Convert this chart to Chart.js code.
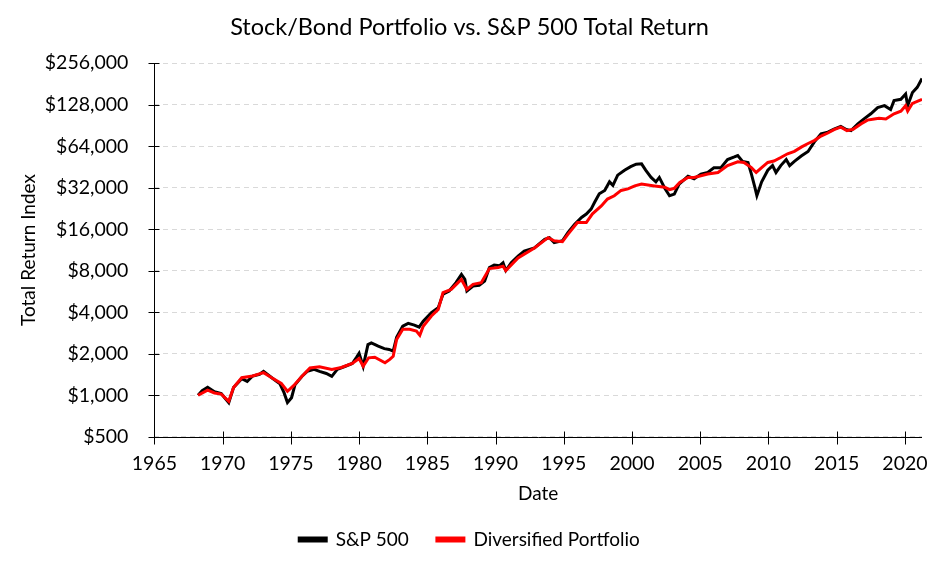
<!DOCTYPE html>
<html>
<head>
<meta charset="utf-8">
<script src="https://cdn.jsdelivr.net/npm/chart.js@4/dist/chart.umd.min.js"></script>
<style>
  html, body { margin: 0; padding: 0; background: #fff; }
  #wrap { width: 936px; height: 562px; }
</style>
</head>
<body>
<div id="wrap"><canvas id="chart"></canvas></div>
<script>
// values (decimal years, index level in $)
const spYears = [1968.2, 1968.5, 1968.9, 1969.4, 1969.9, 1970.15, 1970.45, 1970.8, 1971.4, 1971.8,
  1972.2, 1972.7, 1973.0, 1973.6, 1974.2, 1974.5, 1974.75, 1975.05, 1975.3, 1975.8,
  1976.2, 1976.7, 1977.1, 1977.6, 1978.0, 1978.4, 1978.9, 1979.5, 1979.8, 1980.0,
  1980.3, 1980.65, 1980.9, 1981.4, 1981.85, 1982.2, 1982.5, 1982.75, 1983.2, 1983.6,
  1984.05, 1984.4, 1984.7, 1985.3, 1985.8, 1986.15, 1986.6, 1987.1, 1987.5, 1987.75,
  1987.9, 1988.35, 1988.8, 1989.2, 1989.55, 1989.9, 1990.3, 1990.55, 1990.75, 1991.15,
  1991.65, 1992.1, 1992.85, 1993.6, 1993.95, 1994.3, 1994.9, 1995.3, 1995.8, 1996.3,
  1996.65, 1997.0, 1997.25, 1997.6, 1998.0, 1998.35, 1998.6, 1998.95, 1999.45, 1999.9,
  2000.3, 2000.7, 2001.0, 2001.4, 2001.75, 2002.0, 2002.4, 2002.75, 2003.1, 2003.45,
  2004.1, 2004.55, 2005.05, 2005.55, 2006.0, 2006.5, 2007.0, 2007.5, 2007.75, 2008.1,
  2008.5, 2008.75, 2009.0, 2009.15, 2009.5, 2009.95, 2010.3, 2010.55, 2010.9, 2011.3,
  2011.55, 2011.9, 2012.4, 2012.9, 2013.35, 2013.85, 2014.35, 2014.8, 2015.3, 2015.7,
  2016.05, 2016.55, 2017.0, 2017.5, 2018.0, 2018.5, 2018.95, 2019.2, 2019.7, 2020.05,
  2020.2, 2020.55, 2020.9, 2021.25];
const spValues = [1000, 1080, 1143, 1060, 1030, 960, 885, 1140, 1320, 1260,
  1380, 1420, 1490, 1340, 1210, 1045, 885, 960, 1190, 1370,
  1490, 1540, 1490, 1440, 1370, 1540, 1610, 1700, 1880, 2020,
  1620, 2330, 2400, 2270, 2180, 2150, 2090, 2630, 3170, 3320,
  3230, 3120, 3450, 3970, 4320, 5400, 5700, 6560, 7530, 6920,
  5700, 6200, 6270, 6740, 8440, 8800, 8700, 9130, 8030, 9160,
  10200, 11100, 11700, 13500, 13900, 12800, 13200, 15100, 17400, 19500,
  20600, 22400, 25000, 28900, 30600, 35300, 33300, 39500, 42900, 45500,
  47400, 47700, 42900, 38000, 35300, 38000, 31700, 28000, 28800, 34000,
  38700, 37200, 40200, 41300, 44600, 44600, 51200, 53500, 54800, 49700,
  48800, 40200, 32300, 28000, 35300, 42900, 46300, 41300, 46300, 51200,
  46300, 49700, 54300, 58600, 68600, 78800, 81000, 85000, 89000, 84500,
  83000, 93000, 101000, 110000, 122000, 126000, 118000, 137000, 140000, 153000,
  126000, 157000, 171000, 198000];

const divYears = [1968.2, 1968.9, 1969.4, 1969.9, 1970.45, 1970.8, 1971.4, 1972.2, 1973.0, 1973.6,
  1974.3, 1974.75, 1975.2, 1975.8, 1976.4, 1977.1, 1978.0, 1978.7, 1979.5, 1980.0,
  1980.3, 1980.7, 1981.15, 1981.9, 1982.25, 1982.5, 1982.75, 1983.2, 1983.7, 1984.2,
  1984.45, 1984.7, 1985.3, 1985.8, 1986.15, 1986.75, 1987.25, 1987.5, 1987.9, 1988.35,
  1988.95, 1989.55, 1990.2, 1990.55, 1990.75, 1991.65, 1992.85, 1993.85, 1994.3, 1994.9,
  1995.3, 1996.0, 1996.65, 1997.1, 1997.75, 1998.2, 1998.7, 1999.2, 1999.7, 2000.2,
  2000.7, 2001.65, 2002.4, 2002.75, 2003.1, 2003.5, 2004.1, 2004.55, 2005.55, 2006.3,
  2007.0, 2007.75, 2008.2, 2008.75, 2009.1, 2009.5, 2009.95, 2010.4, 2010.9, 2011.4,
  2011.9, 2012.4, 2012.9, 2013.35, 2013.85, 2014.35, 2014.8, 2015.3, 2015.75, 2016.2,
  2016.8, 2017.25, 2017.75, 2018.1, 2018.6, 2019.2, 2019.7, 2020.05, 2020.2, 2020.55,
  2021.25];
const divValues = [1000, 1090, 1040, 1020, 905, 1140, 1340, 1380, 1460, 1340,
  1220, 1070, 1175, 1370, 1580, 1610, 1540, 1590, 1700, 1850,
  1625, 1870, 1890, 1720, 1820, 1920, 2540, 3010, 3010, 2920,
  2720, 3170, 3760, 4200, 5550, 5860, 6560, 6920, 5860, 6370,
  6560, 8300, 8440, 8640, 8030, 9900, 11700, 13900, 13200, 13000,
  14700, 17900, 17900, 20700, 23600, 26500, 28000, 30600, 31400, 33000,
  34000, 33000, 32300, 31000, 31700, 35000, 38000, 38000, 40200, 41300,
  46300, 49400, 48800, 44800, 41300, 44800, 48800, 50000, 53000, 56400,
  58700, 63000, 67000, 70300, 75800, 79800, 84500, 88000, 83000, 85000,
  93000, 99000, 101000, 102000, 101000, 110000, 115000, 126000, 115000, 131000,
  140000];

const xTicks = [1965, 1970, 1975, 1980, 1985, 1990, 1995, 2000, 2005, 2010, 2015, 2020];
const yTicks = [500, 1000, 2000, 4000, 8000, 16000, 32000, 64000, 128000, 256000];

const FONT = 'Lato, "Open Sans", sans-serif';

// axis lines and tick marks: in the picture the ticks cross the axis line
const axisLines = {
  id: 'axisLines',
  afterDraw(chart) {
    const { ctx, chartArea, scales: { x, y } } = chart;
    const ax = Math.round(chartArea.left) + 0.5;
    const ay = Math.round(chartArea.bottom) + 0.5;
    ctx.save();
    ctx.setLineDash([]);
    ctx.globalAlpha = 1;
    ctx.strokeStyle = '#000000';
    ctx.lineWidth = 1;
    ctx.beginPath();
    ctx.moveTo(ax, Math.round(chartArea.top));
    ctx.lineTo(ax, ay);
    ctx.lineTo(Math.round(chartArea.right), ay);
    y.ticks.forEach(t => {
      const py = Math.round(y.getPixelForValue(t.value)) + 0.5;
      ctx.moveTo(ax - 6, py);
      ctx.lineTo(ax + 5, py);
    });
    x.ticks.forEach(t => {
      const px = Math.round(x.getPixelForValue(t.value)) + 0.5;
      ctx.moveTo(px, ay - 6);
      ctx.lineTo(px, ay + 7);
    });
    ctx.stroke();
    ctx.restore();
  }
};

const toPoints = (xs, ys) => xs.map((v, i) => ({ x: v, y: ys[i] }));

new Chart(document.getElementById('chart'), {
  type: 'line',
  data: {
    datasets: [
      {
        label: 'S&P 500',
        data: toPoints(spYears, spValues),
        borderColor: '#000000',
        backgroundColor: '#000000',
        borderWidth: 3,
        pointRadius: 0,
        tension: 0,
        order: 2
      },
      {
        label: 'Diversified Portfolio',
        data: toPoints(divYears, divValues),
        borderColor: '#ff0000',
        backgroundColor: '#ff0000',
        borderWidth: 3,
        pointRadius: 0,
        tension: 0,
        order: 1
      }
    ]
  },
  options: {
    responsive: true,
    maintainAspectRatio: false,
    animation: false,
    layout: { padding: { left: 17, right: 14, top: 10, bottom: 3 } },
    plugins: {
      title: {
        display: true,
        text: 'Stock/Bond Portfolio vs. S&P 500 Total Return',
        color: '#000',
        font: { family: FONT, size: 23.5, weight: 'normal' },
        padding: { top: 3, bottom: 22 }
      },
      legend: {
        position: 'bottom',
        labels: {
          color: '#000',
          font: { family: FONT, size: 19 },
          boxWidth: 27,
          boxHeight: 3,
          padding: 28,
          sort: (a, b) => a.datasetIndex - b.datasetIndex
        }
      },
      tooltip: { enabled: false }
    },
    scales: {
      x: {
        type: 'linear',
        min: 1965,
        max: 2021.25,
        afterBuildTicks: (scale) => { scale.ticks = xTicks.map(v => ({ value: v })); },
        ticks: {
          color: '#000',
          font: { family: FONT, size: 19.5 },
          padding: 8,
          callback: (v) => String(v)
        },
        grid: { drawOnChartArea: false, tickLength: 7, tickColor: 'rgba(0,0,0,0)' },
        border: { display: false },
        title: {
          display: true,
          text: 'Date',
          color: '#000',
          font: { family: FONT, size: 19 },
          padding: { top: -1, bottom: -3 }
        }
      },
      y: {
        type: 'logarithmic',
        min: 500,
        max: 256000,
        afterBuildTicks: (scale) => { scale.ticks = yTicks.map(v => ({ value: v })); },
        ticks: {
          color: '#000',
          font: { family: FONT, size: 19.5 },
          padding: 5,
          callback: (v) => '$' + Number(v).toLocaleString('en-US')
        },
        grid: {
          color: '#d9d9d9',
          lineWidth: 1,
          tickLength: 21,
          tickColor: 'rgba(0,0,0,0)'
        },
        border: { display: false, dash: [5, 4] },
        title: {
          display: true,
          text: 'Total Return Index',
          color: '#000',
          font: { family: FONT, size: 19 },
          padding: { top: 0, bottom: 0 }
        }
      }
    }
  },
  plugins: [axisLines]
});
</script>
</body>
</html>
